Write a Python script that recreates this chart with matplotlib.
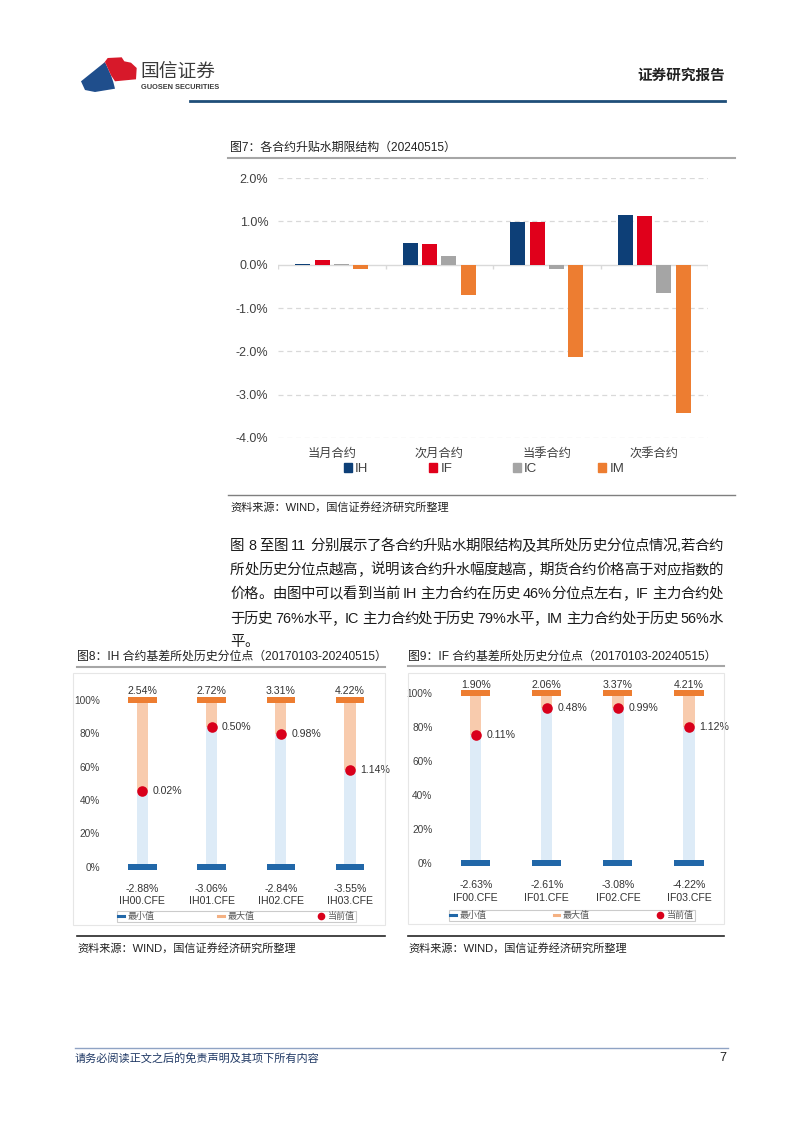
import re
import matplotlib
matplotlib.use('Agg')
import matplotlib.pyplot as plt
from matplotlib.patches import Polygon, Rectangle
from matplotlib.lines import Line2D

plt.rcParams['font.family'] = ['Liberation Sans', 'Noto Sans CJK SC', 'DejaVu Sans']

# ---------------- data ----------------
terms = ['当月合约', '次月合约', '当季合约', '次季合约']
series_names = ['IH', 'IF', 'IC', 'IM']
IH = [0.02, 0.50, 0.98, 1.14]
IF = [0.11, 0.48, 0.99, 1.12]
IC = [0.01, 0.20, -0.09, -0.65]
IM = [-0.10, -0.69, -2.12, -3.43]
series_colors = ['#0D3F77', '#E0001B', '#A5A5A5', '#ED7D31']
yticks7 = [2, 1, 0, -1, -2, -3, -4]

ih_codes = ['IH00.CFE', 'IH01.CFE', 'IH02.CFE', 'IH03.CFE']
ih_min = [-2.88, -3.06, -2.84, -3.55]
ih_max = [2.54, 2.72, 3.31, 4.22]
ih_cur = [0.02, 0.50, 0.98, 1.14]
ih_pct = [45.6, 83.6, 79.8, 58.0]

if_codes = ['IF00.CFE', 'IF01.CFE', 'IF02.CFE', 'IF03.CFE']
if_min = [-2.63, -2.61, -3.08, -4.22]
if_max = [1.90, 2.06, 3.37, 4.21]
if_cur = [0.11, 0.48, 0.99, 1.12]
if_pct = [75.5, 91.4, 91.4, 80.0]
pct_ticks = [0, 20, 40, 60, 80, 100]
legend_labels = ['最小值', '最大值', '当前值']

paragraph = [
    '图 8 至图 11 分别展示了各合约升贴水期限结构及其所处历史分位点情况,若合约',
    '所处历史分位点越高，说明该合约升水幅度越高，期货合约价格高于对应指数的',
    '价格。由图中可以看到当前 IH 主力合约在历史 46%分位点左右，IF 主力合约处',
    '于历史 76%水平，IC 主力合约处于历史 79%水平，IM 主力合约处于历史 56%水',
    '平。',
]

# ---------------- figure ----------------
W, H = 802, 1133
fig = plt.figure(figsize=(W / 100, H / 100), dpi=100)
fig.patch.set_facecolor('white')


def fx(x):
    return x / W


def fy(y):
    return 1 - y / H


def axes_px(x0, y0, x1, y1):
    return fig.add_axes([fx(x0), fy(y1), (x1 - x0) / W, (y1 - y0) / H])


def hline(x0, x1, y, color, lw):
    fig.add_artist(Line2D([fx(x0), fx(x1)], [fy(y), fy(y)], color=color, lw=lw,
                          transform=fig.transFigure))


def ftext(x, y, s, **kw):
    kw.setdefault('va', 'center')
    return fig.text(fx(x), fy(y), s, **kw)


# ---------------- header ----------------
blue_poly = [(81, 81.3), (105, 62), (108.3, 69.3), (111, 75.3), (113.3, 82),
             (115, 88.7), (95, 92), (85, 90)]
red_poly = [(101, 67), (107.7, 58), (121.7, 57.3), (124.3, 61.3), (131, 62.7),
            (136.7, 68), (136, 79.3), (115, 81.3), (111, 75.3), (108.3, 69.3), (105, 62)]
fig.add_artist(Polygon([(fx(a), fy(b)) for a, b in blue_poly], closed=True,
                       facecolor='#1F4E8C', edgecolor='none', transform=fig.transFigure))
fig.add_artist(Polygon([(fx(a), fy(b)) for a, b in red_poly], closed=True,
                       facecolor='#D7192A', edgecolor='none', transform=fig.transFigure))
ftext(140, 72, '国信证券', fontsize=13.5, color='#3A3A3A', fontweight='medium')
ftext(141, 87.5, 'GUOSEN SECURITIES', fontsize=5.3, color='#3A3A3A', fontweight='bold')
ftext(725, 76, '证券研究报告', fontsize=10.5, color='#222222', fontweight='bold', ha='right')
hline(190, 725, 101, '#1F4E79', 2.0)

# ---------------- chart 7 ----------------
ftext(230, 148, '图7：各合约升贴水期限结构（20240515）', fontsize=8.6, color='#222222')
hline(228, 735, 158, '#A6A6A6', 1.5)

ax7 = axes_px(278, 178, 708, 438)
ax7.set_xlim(-0.5, 3.5)
ax7.set_ylim(-4, 2)
for s in ax7.spines.values():
    s.set_visible(False)
ax7.set_yticks(yticks7)
ax7.set_yticklabels(['%.1f%%' % v for v in yticks7], fontsize=9, color='#404040')
ax7.tick_params(axis='y', length=0, pad=7)
ax7.set_xticks(range(len(terms)))
ax7.set_xticklabels(terms, fontsize=8.8, color='#404040')
ax7.tick_params(axis='x', length=0, pad=7)
for v in yticks7:
    if v != 0:
        ax7.axhline(v, color='#D9D9D9', lw=0.9, ls=(0, (4, 3)), zorder=0)
ax7.axhline(0, color='#D9D9D9', lw=1.0, zorder=1)
ax7.vlines([-0.5, 0.5, 1.5, 2.5, 3.5], -0.09, 0, color='#D9D9D9', lw=1.0)

bw, step = 0.14, 0.18
for k, (name, vals) in enumerate(zip(series_names, [IH, IF, IC, IM])):
    xs = [i + (k - 1.5) * step for i in range(len(terms))]
    ax7.bar(xs, vals, width=bw, color=series_colors[k], zorder=2, label=name)
ax7.legend(handles=[Rectangle((0, 0), 1, 1, color=c) for c in series_colors],
           labels=series_names, ncol=4, loc='center',
           bbox_to_anchor=(fx(484), fy(469)), bbox_transform=fig.transFigure,
           frameon=False, handlelength=0.6, handleheight=0.6, handletextpad=0.25,
           columnspacing=4.6, fontsize=9.5, labelcolor='#404040')

hline(228, 735, 495, '#7F7F7F', 1.0)
ftext(230, 507, '资料来源：WIND，国信证券经济研究所整理', fontsize=8, color='#222222')

# ---------------- paragraph (justified) ----------------
renderer = fig.canvas.get_renderer()
para_fs = 10.4
para_y = [546, 570, 594, 619, 642]


def draw_line(s, x0, x1, y, justify):
    tokens = re.findall(r'[A-Za-z0-9%.]+| |.', s)
    objs = []
    widths = []
    sp = para_fs * 100 / 72 * 0.28
    for t in tokens:
        if t == ' ':
            objs.append(None)
            widths.append(sp)
        else:
            o = fig.text(0, fy(y), t, fontsize=para_fs, color='#1A1A1A', va='center', ha='left')
            widths.append(o.get_window_extent(renderer).width)
            objs.append(o)
    n = len(tokens)
    extra = 0.0
    if justify and n > 1:
        extra = (x1 - x0 - sum(widths)) / (n - 1)
    x = x0
    for o, w in zip(objs, widths):
        if o is not None:
            o.set_x(fx(x))
        x += w + extra


for i, (line, y) in enumerate(zip(paragraph, para_y)):
    draw_line(line, 230, 723, y, i < len(paragraph) - 1)


# ---------------- charts 8 & 9 ----------------
def range_chart(ax_box, codes, vmin, vmax, vcur, pct, title, tx, tline, frame,
                leg_box, src_line, ypx100, ypx0):
    x0, x1 = ax_box
    fig.add_artist(Rectangle((fx(frame[0]), fy(frame[3])), (frame[2] - frame[0]) / W,
                             (frame[3] - frame[1]) / H, fill=False, edgecolor='#E6E6E6',
                             lw=0.8, transform=fig.transFigure))
    ftext(tx, 657, title, fontsize=8.6, color='#222222')
    hline(tline[0], tline[1], tline[2], '#A6A6A6', 1.5)

    ax = axes_px(x0, ypx100, x1, ypx0)
    ax.set_xlim(-0.5, 3.5)
    ax.set_ylim(0, 100)
    for s in ax.spines.values():
        s.set_visible(False)
    ax.set_xticks([])
    ax.set_yticks(pct_ticks)
    ax.set_yticklabels(['%d%%' % v for v in pct_ticks], fontsize=7.3, color='#404040')
    ax.tick_params(axis='y', length=0, pad=5.6)
    px_per_pct = (ypx0 - ypx100) / 100.0
    cap_h = 6 / px_per_pct
    xs = list(range(len(codes)))
    ax.bar(xs, pct, width=0.16, bottom=0, color='#DDEBF7', zorder=1)
    ax.bar(xs, [100 - p for p in pct], width=0.16, bottom=pct, color='#F8CBAD', zorder=1)
    ax.bar(xs, cap_h, width=0.41, bottom=100 - cap_h / 2, color='#ED7D31', zorder=2,
           clip_on=False)
    ax.bar(xs, cap_h, width=0.41, bottom=-cap_h / 2, color='#2167A8', zorder=2,
           clip_on=False)
    ax.scatter(xs, pct, s=58, color='#D9001B', zorder=3, clip_on=False, linewidths=0)
    for i in xs:
        ax.text(i + 0.15, pct[i], '%.2f%%' % vcur[i], fontsize=7.6, color='#333333',
                va='center', ha='left')
        ax.text(i, 100 + 8.8 / px_per_pct, '%.2f%%' % vmax[i], fontsize=7.6,
                color='#333333', va='center', ha='center', clip_on=False)
        ax.text(i, -22 / px_per_pct, '%.2f%%' % vmin[i], fontsize=7.6,
                color='#333333', va='center', ha='center', clip_on=False)
        ax.text(i, -34.5 / px_per_pct, codes[i], fontsize=7.6,
                color='#333333', va='center', ha='center', clip_on=False)
    lh = [Line2D([], [], color='#2167A8', lw=2.2),
          Line2D([], [], color='#F4B183', lw=2.2),
          Line2D([], [], color='#D9001B', marker='o', ls='none', markersize=4.5)]
    lx0, ly0, lx1, ly1 = leg_box
    leg = ax.legend(handles=lh, labels=legend_labels, ncol=3, loc='center',
                    bbox_to_anchor=(fx(lx0), fy(ly1), (lx1 - lx0) / W, (ly1 - ly0) / H),
                    bbox_transform=fig.transFigure, mode='expand', frameon=True,
                    fancybox=False, edgecolor='#BFBFBF', fontsize=6.5,
                    handlelength=0.6, handletextpad=0.4, borderpad=0.15,
                    labelcolor='#595959', borderaxespad=0)
    leg.get_frame().set_linewidth(0.8)
    hline(src_line[0], src_line[1], 936, '#262626', 1.2)
    ftext(src_line[0], 948, '资料来源：WIND，国信证券经济研究所整理', fontsize=8,
          color='#222222')


range_chart((107.7, 384.6), ih_codes, ih_min, ih_max, ih_cur, ih_pct,
            '图8：IH 合约基差所处历史分位点（20170103-20240515）', 77,
            (77, 385, 667), (73, 673, 385, 925), (117, 910, 356, 923), (77, 385),
            700, 866.7)
range_chart((440.2, 724.5), if_codes, if_min, if_max, if_cur, if_pct,
            '图9：IF 合约基差所处历史分位点（20170103-20240515）', 408,
            (408, 724, 666), (408, 673, 724, 924), (449, 909, 695, 922), (408, 724),
            693.3, 863.3)

# ---------------- footer ----------------
hline(75, 728, 1048, '#8FA3C4', 1.0)
ftext(75, 1058, '请务必阅读正文之后的免责声明及其项下所有内容', fontsize=8,
      color='#1F3864', style='italic')
ftext(726, 1058, '7', fontsize=9, color='#222222', ha='right')

fig.savefig('out.png', dpi=100, facecolor='white')
